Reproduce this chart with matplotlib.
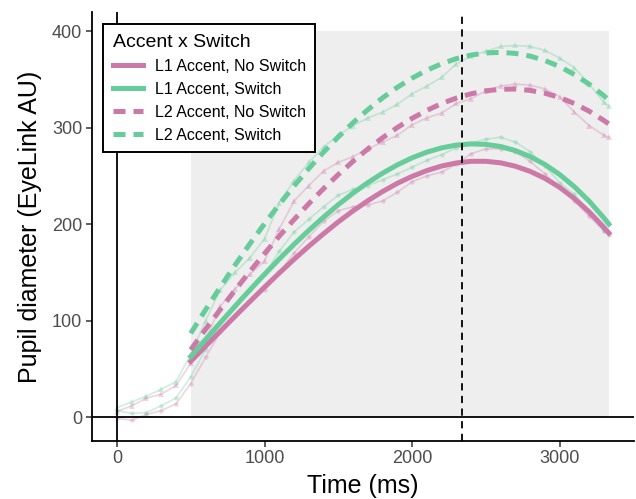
import matplotlib
matplotlib.use("Agg")
import matplotlib.pyplot as plt
import numpy as np

plt.rcParams['font.family'] = ['Liberation Sans', 'DejaVu Sans']

# colours
PINK = '#CC79A7'
GREEN = '#66CC99'

# raw (binned) pupil traces
raw_time = [0, 100, 200, 300, 400, 500, 600, 700, 800, 900, 1000, 1100, 1200, 1300,
            1400, 1500, 1600, 1700, 1800, 1900, 2000, 2100, 2200, 2300, 2400, 2500,
            2600, 2700, 2800, 2900, 3000, 3100, 3200, 3300, 3333]
raw_l1_noswitch = [-1, -3, 3, 7, 14, 35, 62, 88, 105, 120, 132, 150, 170, 187, 203, 214,
                   218, 220, 224, 233, 244, 250, 254, 262, 273, 278, 278, 275, 265, 252,
                   238, 224, 208, 193, 190]
raw_l1_switch = [7, 4, 5, 12, 20, 42, 70, 98, 115, 132, 148, 172, 192, 205, 218, 230,
                 236, 240, 246, 252, 259, 266, 272, 279, 284, 288, 290, 285, 275, 260,
                 243, 231, 212, 193, 189]
raw_l2_noswitch = [6, 12, 20, 24, 33, 56, 80, 115, 133, 148, 162, 195, 224, 240, 255, 264,
                   270, 278, 285, 292, 303, 310, 315, 325, 330, 338, 343, 345, 344, 340,
                   332, 316, 302, 292, 290]
raw_l2_switch = [10, 16, 22, 29, 37, 65, 100, 132, 150, 165, 185, 222, 245, 264, 280, 292,
                 302, 310, 316, 324, 335, 343, 352, 366, 374, 379, 384, 385, 384, 380,
                 372, 362, 345, 326, 322]

# fitted curves (analysis window 500-3333 ms)
fit_time = [500, 600, 700, 800, 900, 1000, 1100, 1200, 1300, 1400, 1500, 1600, 1700,
            1800, 1900, 2000, 2100, 2200, 2300, 2400, 2500, 2600, 2700, 2800, 2900,
            3000, 3100, 3200, 3300, 3333]
fit_l1_noswitch = [58, 73.6, 89.1, 104.6, 119.8, 134.8, 149.4, 163.6, 177.2, 190.1, 202.4,
                   213.8, 224.3, 233.8, 242.3, 249.5, 255.5, 260.2, 263.4, 265.1, 265.1,
                   263.5, 260.0, 254.7, 247.4, 238.1, 226.5, 212.7, 196.6, 190.8]
fit_l1_switch = [63, 80.5, 97.9, 115.0, 131.8, 148.1, 163.9, 179.1, 193.6, 207.3, 220.2,
                 232.2, 243.0, 252.8, 261.4, 268.7, 274.6, 279.0, 281.9, 283.1, 282.6,
                 280.4, 276.2, 270.0, 261.8, 251.4, 238.7, 223.8, 206.4, 200.1]
fit_l2_noswitch = [70, 91.1, 111.6, 131.6, 150.9, 169.6, 187.6, 204.8, 221.2, 236.8, 251.4,
                   265.1, 277.9, 289.5, 300.1, 309.6, 317.8, 324.9, 330.6, 335.0, 338.1,
                   339.7, 339.9, 338.5, 335.6, 331.1, 324.9, 317.0, 307.3, 303.8]
fit_l2_switch = [87, 111.3, 134.8, 157.6, 179.5, 200.5, 220.5, 239.6, 257.6, 274.6, 290.4,
                 305.1, 318.5, 330.8, 341.7, 351.2, 359.4, 366.1, 371.4, 375.1, 377.3,
                 377.9, 376.8, 374.0, 369.4, 363.2, 354.9, 344.9, 332.9, 328.4]

labels = ['L1 Accent, No Switch', 'L1 Accent, Switch',
          'L2 Accent, No Switch', 'L2 Accent, Switch']

window_start = 500
window_end = 3333
marker_time = 2337

fig = plt.figure(figsize=(6.36, 4.99), dpi=100)
ax = fig.add_axes([0.1447, 0.1168, 0.852, 0.859])

# analysis window (0 to 400 on y)
ax.fill_between([window_start, window_end], 0, 400, color='#EEEEEE', lw=0, zorder=0)

# raw traces
ax.plot(raw_time, raw_l1_noswitch, color=PINK, alpha=0.3, lw=1.3, marker='o', ms=3.2, mew=0, zorder=2)
ax.plot(raw_time, raw_l1_switch, color=GREEN, alpha=0.3, lw=1.3, marker='o', ms=3.2, mew=0, zorder=2)
ax.plot(raw_time, raw_l2_noswitch, color=PINK, alpha=0.3, lw=1.3, marker='^', ms=4, mew=0, zorder=2)
ax.plot(raw_time, raw_l2_switch, color=GREEN, alpha=0.3, lw=1.3, marker='^', ms=4, mew=0, zorder=2)

# fitted
dash = (0, (2.4, 1.6))
ax.plot(fit_time, fit_l1_noswitch, color=PINK, lw=3.6, label=labels[0], zorder=3)
ax.plot(fit_time, fit_l1_switch, color=GREEN, lw=3.6, label=labels[1], zorder=3)
ax.plot(fit_time, fit_l2_noswitch, color=PINK, lw=3.6, ls=dash, label=labels[2], zorder=3)
ax.plot(fit_time, fit_l2_switch, color=GREEN, lw=3.6, ls=dash, label=labels[3], zorder=3)

ax.axhline(0, color='black', lw=1.3, zorder=4)
ax.axvline(0, color='black', lw=1.3, zorder=4)
ax.axvline(marker_time, color='black', lw=1.3, ls=(0, (4, 3)), zorder=4)

ax.set_xlim(-169, 3503)
ax.set_ylim(-24.2, 419.6)
ax.set_xticks([0, 1000, 2000, 3000])
ax.set_yticks([0, 100, 200, 300, 400])

for s in ['top', 'right']:
    ax.spines[s].set_visible(False)
for s in ['left', 'bottom']:
    ax.spines[s].set_linewidth(1.3)
ax.tick_params(length=4, width=1.1, color='#333333', labelcolor='#4D4D4D',
               labelsize=13, pad=3)

ax.set_xlabel('Time (ms)', fontsize=18, labelpad=5)
ax.set_ylabel('Pupil diameter (EyeLink AU)', fontsize=18, labelpad=7)

leg = ax.legend(title='Accent x Switch', loc='upper left', bbox_to_anchor=(0.021, 0.972),
                borderaxespad=0, fontsize=11.5, title_fontsize=14, frameon=True,
                fancybox=False, handlelength=1.9, handletextpad=0.7, labelspacing=0.5,
                borderpad=0.6, alignment='left')
leg.get_frame().set_edgecolor('black')
leg.get_frame().set_linewidth(1.4)
leg.get_frame().set_alpha(1)
leg.set_zorder(10)

fig.savefig('out.png', dpi=100)
